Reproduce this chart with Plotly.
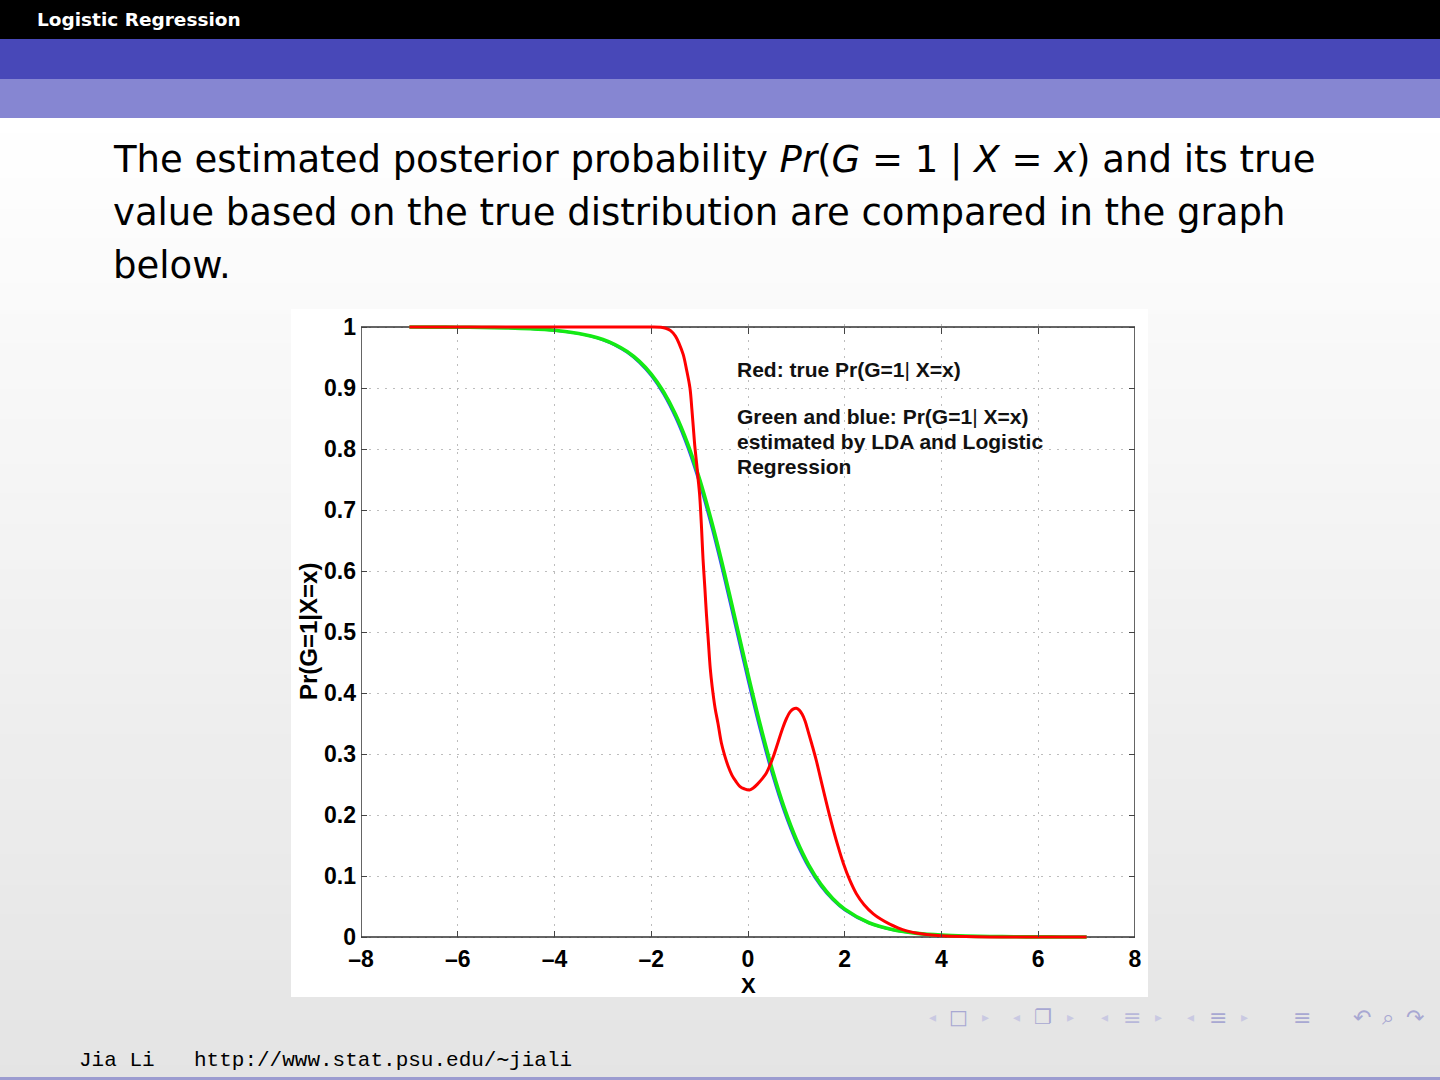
import plotly.graph_objects as go

# ---------------- data ----------------
# true posterior Pr(G=1 | X=x)
x_true = [-7.0, -6.0, -5.0, -4.0, -3.0, -2.5, -2.0, -1.8, -1.7, -1.6, -1.5, -1.42, -1.34, -1.27, -1.2,
          -1.16, -1.13, -1.1, -1.06, -1.03, -1.0, -0.96, -0.93, -0.89, -0.86, -0.82, -0.78, -0.74, -0.68,
          -0.62, -0.55, -0.48, -0.41, -0.33, -0.25, -0.17, -0.08, 0.03, 0.12, 0.2, 0.3, 0.38, 0.45, 0.52,
          0.62, 0.72, 0.8, 0.87, 0.94, 1.0, 1.06, 1.12, 1.18, 1.24, 1.32, 1.41, 1.5, 1.59, 1.68, 1.76,
          1.86, 1.97, 2.1, 2.24, 2.4, 2.59, 2.75, 2.93, 3.1, 3.28, 3.5, 3.69, 4.0, 4.5, 5.0, 6.0, 7.0]
p_true = [1.0, 1.0, 1.0, 1.0, 1.0, 1.0, 1.0, 0.9995, 0.998, 0.994, 0.985, 0.972, 0.955, 0.93, 0.9,
          0.865, 0.835, 0.805, 0.775, 0.75, 0.725, 0.67, 0.62, 0.57, 0.53, 0.485, 0.44, 0.41, 0.375,
          0.35, 0.318, 0.297, 0.28, 0.265, 0.255, 0.247, 0.243, 0.241, 0.245, 0.251, 0.26, 0.269, 0.281, 0.295,
          0.319, 0.343, 0.359, 0.369, 0.374, 0.375, 0.372, 0.365, 0.354, 0.338, 0.316, 0.29, 0.26, 0.23, 0.201, 0.177,
          0.149, 0.121, 0.094, 0.071, 0.053, 0.038, 0.029, 0.021, 0.015, 0.010, 0.006, 0.004, 0.002, 0.0007, 0.0002, 0.0, 0.0]

# estimated posteriors (LDA in green, logistic regression in blue)
x_est = [-7.0, -6.5, -6.0, -5.5, -5.0, -4.5, -4.0, -3.5, -3.25, -3.0, -2.75, -2.5, -2.25, -2.0,
         -1.75, -1.5, -1.25, -1.0, -0.75, -0.5, -0.25, 0.0, 0.25, 0.5, 0.75, 1.0, 1.25, 1.5, 1.75,
         2.0, 2.5, 3.0, 3.5, 4.0, 4.5, 5.0, 5.5, 6.0, 6.5, 7.0]
p_lda = [0.9999, 0.9998, 0.9997, 0.9993, 0.9986, 0.9973, 0.9947, 0.9895, 0.9853, 0.9794, 0.9711, 0.9597,
         0.944, 0.9227, 0.8943, 0.8569, 0.8092, 0.7503, 0.6803, 0.6011, 0.5162, 0.4305, 0.3487, 0.2749,
         0.2116, 0.1598, 0.1187, 0.0871, 0.0633, 0.0457, 0.0234, 0.0119, 0.006, 0.003, 0.0015, 0.0008,
         0.0004, 0.0002, 0.0001, 0.00005]
p_logreg = [0.9999, 0.9998, 0.9996, 0.9992, 0.9985, 0.997, 0.9942, 0.989, 0.9846, 0.9784, 0.9698, 0.9579,
            0.9416, 0.9195, 0.89, 0.8512, 0.8022, 0.7418, 0.6704, 0.5902, 0.505, 0.4194, 0.3385, 0.2659,
            0.2042, 0.1538, 0.114, 0.0835, 0.0606, 0.0437, 0.0224, 0.0114, 0.0058, 0.0028, 0.0014, 0.0007,
            0.0004, 0.0002, 0.0001, 0.00005]

x_ticks = [-8, -6, -4, -2, 0, 2, 4, 6, 8]
x_tick_labels = ["\u20138", "\u20136", "\u20134", "\u20132", "0", "2", "4", "6", "8"]
y_ticks = [0, 0.1, 0.2, 0.3, 0.4, 0.5, 0.6, 0.7, 0.8, 0.9, 1]
y_tick_labels = ["0", "0.1", "0.2", "0.3", "0.4", "0.5", "0.6", "0.7", "0.8", "0.9", "1"]

# ---------------- page geometry (pixels) ----------------
W, H = 1440, 1080


def fx(p):
    return p / W


def fy(p):
    return 1 - p / H


PLOT_L, PLOT_R = 361, 1135      # x = -8 .. 8
PLOT_T, PLOT_B = 327, 937       # y = 1 .. 0
Y_PAD = 0.005                   # small headroom so curves at 0 and 1 are not clipped
pad_px = Y_PAD * (PLOT_B - PLOT_T)
y_dom = [fy(PLOT_B + pad_px), fy(PLOT_T - pad_px)]
y_rng = [-Y_PAD, 1 + Y_PAD]


def y_paper(v):
    return y_dom[0] + (v - y_rng[0]) / (y_rng[1] - y_rng[0]) * (y_dom[1] - y_dom[0])


TICK_FONT = dict(family="Liberation Sans, Arial, sans-serif", size=23, color="black", weight="bold")
LBL_FONT = dict(family="Liberation Sans, Arial, sans-serif", size=21, color="#111111", weight="bold")
BODY_FONT = dict(family="DejaVu Sans, sans-serif", size=37, color="black")
MONO_FONT = dict(family="Liberation Mono, DejaVu Sans Mono, monospace", size=21, color="black")

fig = go.Figure()

fig.add_trace(go.Scatter(x=x_est, y=p_logreg, mode="lines", name="Logistic regression",
                         line=dict(color="#3344ff", width=2.2, shape="spline", smoothing=0.8),
                         hoverinfo="skip"))
fig.add_trace(go.Scatter(x=x_est, y=p_lda, mode="lines", name="LDA",
                         line=dict(color="#14ea14", width=3.6, shape="spline", smoothing=0.8),
                         hoverinfo="skip"))
fig.add_trace(go.Scatter(x=x_true, y=p_true, mode="lines", name="True",
                         line=dict(color="#ff0000", width=3.0, shape="spline", smoothing=1.0),
                         hoverinfo="skip"))
# carrier for the top tick row
fig.add_trace(go.Scatter(x=[None], y=[None], xaxis="x2", yaxis="y", showlegend=False, hoverinfo="skip"))

shapes = []
# slide background: soft vertical gradient
n_bands = 64
top, bot = 118, 1080
for i in range(n_bands):
    y0 = top + (bot - top) * i / n_bands
    y1 = top + (bot - top) * (i + 1) / n_bands
    c = round(255 - 27 * (i + 0.5) / n_bands)
    shapes.append(dict(type="rect", xref="paper", yref="paper", x0=0, x1=1, y0=fy(y1 + 1), y1=fy(y0),
                       fillcolor=f"rgb({c},{c},{c})", line=dict(width=0), layer="below"))
# header bars
shapes.append(dict(type="rect", xref="paper", yref="paper", x0=0, x1=1, y0=fy(39), y1=1,
                   fillcolor="#000000", line=dict(width=0), layer="below"))
shapes.append(dict(type="rect", xref="paper", yref="paper", x0=0, x1=1, y0=fy(79), y1=fy(39),
                   fillcolor="#4848b8", line=dict(width=0), layer="below"))
shapes.append(dict(type="rect", xref="paper", yref="paper", x0=0, x1=1, y0=fy(118), y1=fy(79),
                   fillcolor="#8686d2", line=dict(width=0), layer="below"))
# footer rule
shapes.append(dict(type="rect", xref="paper", yref="paper", x0=0, x1=1, y0=0, y1=fy(1077),
                   fillcolor="#9c9cd0", line=dict(width=0), layer="below"))
# white figure panel
shapes.append(dict(type="rect", xref="paper", yref="paper", x0=fx(291), x1=fx(1148), y0=fy(997), y1=fy(309),
                   fillcolor="white", line=dict(width=0), layer="below"))
# axes box
shapes.append(dict(type="rect", xref="x", yref="y", x0=-8, x1=8, y0=0, y1=1,
                   line=dict(color="#333333", width=1.5), layer="between"))

annotations = []
# header title
annotations.append(dict(xref="paper", yref="paper", x=fx(35), y=fy(20), xanchor="left", yanchor="middle",
                        text="<b>Logistic Regression</b>", showarrow=False,
                        font=dict(family="DejaVu Sans, sans-serif", size=18.5, color="white")))
# body text
body_lines = [
    "The estimated posterior probability <i>Pr</i>(<i>G</i> = 1 | <i>X</i> = <i>x</i>) and its true",
    "value based on the true distribution are compared in the graph",
    "below.",
]
for i, line in enumerate(body_lines):
    annotations.append(dict(xref="paper", yref="paper", x=fx(111), y=fy(159 + 53 * i), xanchor="left",
                            yanchor="middle", text=line, showarrow=False, font=BODY_FONT))
# in-plot legend text
legend_lines = [
    (369, "Red: true Pr(G=1<span style='font-weight:normal'>|</span> X=x)"),
    (416, "Green and blue: Pr(G=1<span style='font-weight:normal'>|</span> X=x)"),
    (442, "estimated by LDA and Logistic"),
    (467, "Regression"),
]
for ypx, t in legend_lines:
    annotations.append(dict(xref="paper", yref="paper", x=fx(735), y=fy(ypx), xanchor="left", yanchor="middle",
                            text=t, showarrow=False, font=LBL_FONT))
# axis titles
annotations.append(dict(xref="paper", yref="paper", x=fx(748), y=fy(985), xanchor="center", yanchor="middle",
                        text="X", showarrow=False,
                        font=dict(family="Liberation Sans, Arial, sans-serif", size=22, color="black", weight="bold")))
annotations.append(dict(xref="paper", yref="paper", x=fx(308), y=fy(632), xanchor="center", yanchor="middle",
                        text="Pr(G=1|X=x)", textangle=-90, showarrow=False,
                        font=dict(family="Liberation Sans, Arial, sans-serif", size=24, color="black", weight="bold")))
# footer
annotations.append(dict(xref="paper", yref="paper", x=fx(77), y=fy(1060), xanchor="left", yanchor="middle",
                        text="Jia Li", showarrow=False, font=MONO_FONT))
annotations.append(dict(xref="paper", yref="paper", x=fx(192), y=fy(1060), xanchor="left", yanchor="middle",
                        text="http://www.stat.psu.edu/\u223cjiali", showarrow=False, font=MONO_FONT))
# navigation symbols
nav = [
    (932, "\u25c2", "#c9c9e2", 14), (958, "\u25a1", "#a8a8d2", 20), (985, "\u25b8", "#c9c9e2", 14),
    (1016, "\u25c2", "#c9c9e2", 14), (1043, "\u2750", "#a8a8d2", 20), (1070, "\u25b8", "#c9c9e2", 14),
    (1104, "\u25c2", "#c9c9e2", 14), (1132, "\u2261", "#b8b8da", 22), (1158, "\u25b8", "#c9c9e2", 14),
    (1190, "\u25c2", "#c9c9e2", 14), (1218, "\u2261", "#a8a8d2", 22), (1244, "\u25b8", "#c9c9e2", 14),
    (1302, "\u2261", "#a8a8d2", 22), (1362, "\u21b6", "#a8a8d2", 22), (1388, "\u2315", "#a8a8d2", 22),
    (1415, "\u21b7", "#a8a8d2", 22),
]
for xp, ch, col, sz in nav:
    annotations.append(dict(xref="paper", yref="paper", x=fx(xp), y=fy(1017), xanchor="center", yanchor="middle",
                            text=ch, showarrow=False, font=dict(family="DejaVu Sans", size=sz, color=col)))

grid = dict(showgrid=True, gridcolor="#bdbdbd", gridwidth=1, griddash="2px,6px")

fig.update_layout(
    width=W, height=H,
    autosize=False,
    margin=dict(l=0, r=0, t=0, b=0, pad=0, autoexpand=False),
    paper_bgcolor="white",
    plot_bgcolor="white",
    showlegend=False,
    shapes=shapes,
    annotations=annotations,
    xaxis=dict(domain=[fx(PLOT_L), fx(PLOT_R)], range=[-8, 8], anchor="free", position=y_paper(0),
               tickvals=x_ticks, ticktext=x_tick_labels, ticks="inside", ticklen=6, tickwidth=1,
               tickcolor="#444444", showline=False, zeroline=False, tickfont=TICK_FONT,
               ticklabelstandoff=6, fixedrange=True, automargin=False, **grid),
    xaxis2=dict(overlaying="x", domain=[fx(PLOT_L), fx(PLOT_R)], range=[-8, 8], anchor="free",
                position=y_paper(1), side="top", tickvals=x_ticks, ticks="inside", ticklen=6, tickwidth=1,
                tickcolor="#444444", showticklabels=False, showgrid=False, zeroline=False, showline=False,
                fixedrange=True, automargin=False),
    yaxis=dict(domain=y_dom, range=y_rng, tickvals=y_ticks, ticktext=y_tick_labels, ticks="inside",
               ticklen=6, tickwidth=1, tickcolor="#444444", mirror="ticks", showline=False, zeroline=False,
               tickfont=TICK_FONT, ticklabelstandoff=4, fixedrange=True, automargin=False, **grid),
)

fig.write_html("out.html", post_script="document.body.style.margin='0';document.body.style.overflow='hidden';")
